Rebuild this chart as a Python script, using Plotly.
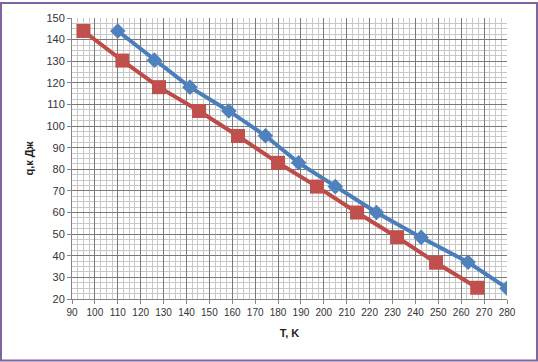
import plotly.graph_objects as go

# Data
t_blue = [110, 126, 141.5, 158.5, 174.5, 189, 205, 223, 242.5, 263, 280]
q_blue = [144, 130.5, 118, 107, 95.5, 83, 72, 60, 48.5, 37, 25]
t_red = [95, 112, 128, 145.5, 162.5, 180, 197, 214.5, 232, 249, 267]
q_red = [144, 130.3, 118, 107, 95.4, 83, 72, 60, 48.6, 36.8, 25.2]

x_title = "T, K"
y_title = "q,к Дж"

W, H = 538, 362
ml, mr, mt, mb = 72, 31, 16, 63
pw, ph = W - ml - mr, H - mt - mb

fig = go.Figure()
fig.add_trace(go.Scatter(
    x=t_blue, y=q_blue, mode="lines+markers",
    line=dict(color="#4a7ebb", width=4),
    marker=dict(symbol="diamond", size=12, color="#4f81bd"),
    showlegend=False))
fig.add_trace(go.Scatter(
    x=t_red, y=q_red, mode="lines+markers",
    line=dict(color="#be4b48", width=4),
    marker=dict(symbol="square", size=14, color="#c0504d"),
    showlegend=False))

font = dict(family="Liberation Sans, Arial", size=10, color="#333333")

fig.update_xaxes(
    range=[90, 280], dtick=10, tick0=90,
    showgrid=True, gridcolor="#7a7a7a", gridwidth=1,
    minor=dict(dtick=2.5, showgrid=True, gridcolor="#c8c8c8", gridwidth=1),
    showline=True, linecolor="#868686", linewidth=1,
    ticks="outside", ticklen=4, tickcolor="#868686",
    tickfont=font, zeroline=False,
    title=dict(text="<b>" + x_title + "</b>", font=dict(family="Liberation Sans, Arial", size=11, color="#222222"), standoff=12),
)
fig.update_yaxes(
    range=[20, 150], dtick=10, tick0=20,
    showgrid=True, gridcolor="#7a7a7a", gridwidth=1,
    minor=dict(dtick=2.5, showgrid=True, gridcolor="#c8c8c8", gridwidth=1),
    showline=True, linecolor="#868686", linewidth=1,
    ticks="outside", ticklen=4, tickcolor="#868686",
    tickfont=dict(family="Liberation Sans, Arial", size=11, color="#333333"), zeroline=False,
    title=dict(text="<b>" + y_title + "</b>", font=dict(family="Liberation Sans, Arial", size=11, color="#222222"), standoff=10),
)

# outer chart border
fig.add_shape(type="rect", xref="paper", yref="paper",
              x0=(-ml + 1) / pw, x1=1 + (mr - 1) / pw,
              y0=(-mb + 1) / ph, y1=1 + (mt - 1) / ph,
              line=dict(color="#8064a2", width=2), layer="above")

fig.update_layout(
    width=W, height=H,
    margin=dict(l=ml, r=mr, t=mt, b=mb),
    paper_bgcolor="white", plot_bgcolor="white",
)

fig.write_html("out.html", config={"displayModeBar": False},
               post_script="document.body.style.margin='0';document.body.style.overflow='hidden';")
